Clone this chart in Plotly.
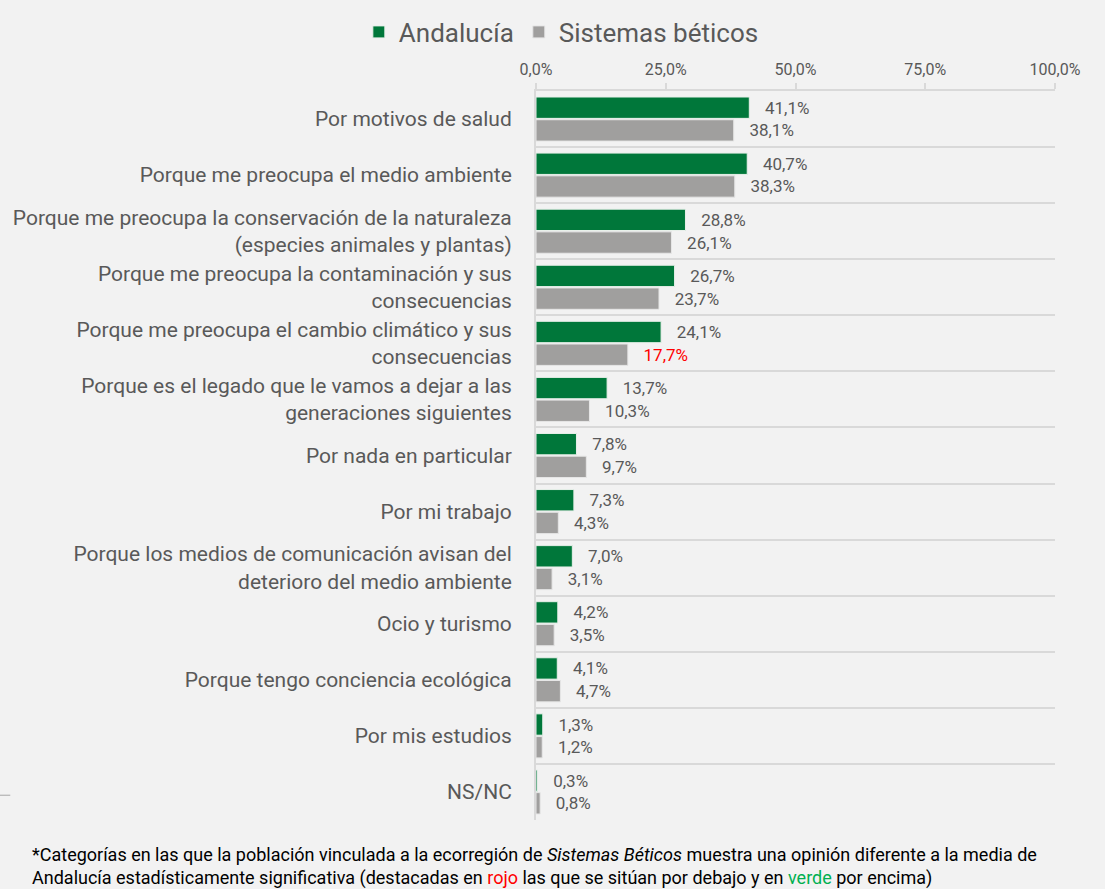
import plotly.graph_objects as go

categories = [
    "Por motivos de salud",
    "Porque me preocupa el medio ambiente",
    "Porque me preocupa la conservación de la naturaleza<br>(especies animales y plantas)",
    "Porque me preocupa la contaminación y sus<br>consecuencias",
    "Porque me preocupa el cambio climático y sus<br>consecuencias",
    "Porque es el legado que le vamos a dejar a las<br>generaciones siguientes",
    "Por nada en particular",
    "Por mi trabajo",
    "Porque los medios de comunicación avisan del<br>deterioro del medio ambiente",
    "Ocio y turismo",
    "Porque tengo conciencia ecológica",
    "Por mis estudios",
    "NS/NC",
]
andalucia = [41.1, 40.7, 28.8, 26.7, 24.1, 13.7, 7.8, 7.3, 7.0, 4.2, 4.1, 1.3, 0.3]
beticos = [38.1, 38.3, 26.1, 23.7, 17.7, 10.3, 9.7, 4.3, 3.1, 3.5, 4.7, 1.2, 0.8]
# significance flags for Sistemas béticos labels: -1 below (red), +1 above (green), 0 none
beticos_sig = [0, 0, 0, 0, -1, 0, 0, 0, 0, 0, 0, 0, 0]
x_ticks = [0, 25, 50, 75, 100]

GREEN = "#00773A"
GREY = "#A09F9E"
TEXT = "#595959"
BG = "#F2F2F2"
FONT = "Roboto"

def lab_color(s):
    return "#FF0000" if s < 0 else ("#00B050" if s > 0 else TEXT)

def pct(v):
    return f"{v:.1f}%".replace(".", ",")

pad = "\u00a0\u00a0\u00a0"

fig = go.Figure()
fig.add_trace(go.Bar(
    y=categories, x=andalucia, orientation="h", name="Andalucía",
    marker=dict(color=GREEN, line=dict(color="#E8F0EA", width=1)),
    text=[pad + pct(v) for v in andalucia],
    textposition="outside", cliponaxis=False,
    textfont=dict(family=FONT, size=17, color=TEXT),
))
fig.add_trace(go.Bar(
    y=categories, x=beticos, orientation="h", name="Sistemas béticos",
    marker=dict(color=GREY, line=dict(color="#E6E6E6", width=1)),
    text=[pad + pct(v) for v in beticos],
    textposition="outside", cliponaxis=False,
    textfont=dict(family=FONT, size=17, color=[lab_color(s) for s in beticos_sig]),
))

fig.update_layout(
    width=1105, height=889,
    paper_bgcolor=BG, plot_bgcolor=BG,
    margin=dict(l=536, r=50, t=91, b=69, autoexpand=False),
    barmode="group", bargap=0.19, bargroupgap=0.06,
    separators=",.",
    font=dict(family=FONT, color=TEXT, size=18),
    showlegend=True,
    legend=dict(orientation="h", xref="container", yref="container",
                x=0.508, xanchor="center", y=0.964, yanchor="middle",
                font=dict(family=FONT, size=26, color=TEXT), bgcolor="rgba(0,0,0,0)",
                traceorder="normal"),
    xaxis=dict(side="top", range=[0, 100], tickmode="array", tickvals=x_ticks,
               ticktext=[pct(v) for v in x_ticks], automargin=False,
               showgrid=False, zeroline=False, showline=True, linecolor="#D9D9D9", linewidth=2,
               ticks="outside", ticklen=6, tickcolor="#D9D9D9", tickwidth=2,
               ticklabelstandoff=2,
               tickfont=dict(family=FONT, size=16, color=TEXT)),
    yaxis=dict(autorange="reversed", tickson="boundaries", showgrid=True, gridcolor="#D9D9D9",
               gridwidth=2, showline=True, linecolor="#D9D9D9", linewidth=2, ticks="",
               ticklabelstandoff=18, automargin=False,
               tickfont=dict(family=FONT, size=21, color=TEXT)),
    annotations=[dict(
        xref="paper", yref="paper", x=-0.974, y=-0.03, xanchor="left", yanchor="top",
        align="left", showarrow=False,
        font=dict(family=FONT, size=18, color="#000000"),
        text=("*Categorías en las que la población vinculada a la ecorregión de <i>Sistemas Béticos</i> "
              "muestra una opinión diferente a la media de<br>Andalucía estadísticamente significativa "
              "(destacadas en <span style='color:#FF0000'>rojo</span> las que se sitúan por debajo y en "
              "<span style='color:#00B050'>verde</span> por encima)"),
    )],
    shapes=[dict(type="line", xref="paper", yref="paper", x0=-1.033, x1=-1.013, y0=0.034, y1=0.034,
                 line=dict(color="#A6A6A6", width=1))],
)

fig.write_html(
    "out.html",
    config={"displayModeBar": False},
    post_script="document.body.style.margin='0';document.body.style.background='#F2F2F2';",
)
